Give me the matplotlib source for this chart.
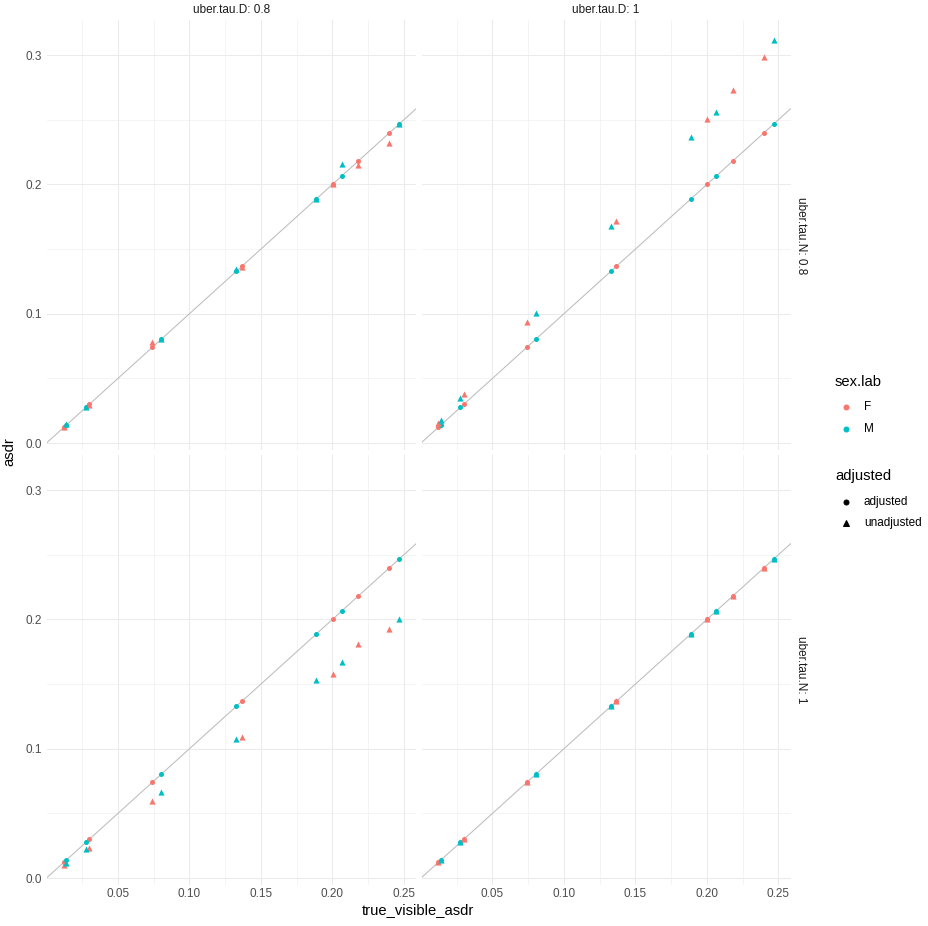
import matplotlib
matplotlib.use("Agg")
import matplotlib.pyplot as plt
from matplotlib.lines import Line2D
from matplotlib.ticker import MultipleLocator, FuncFormatter

plt.rcParams['font.family'] = ['Liberation Sans', 'DejaVu Sans']

# ---- data ----
sexes = ["F", "M"]
sex_colors = {"F": "#F8766D", "M": "#00BFC4"}
tau_D_levels = ["0.8", "1"]
tau_N_levels = ["0.8", "1"]

true_F = [0.0121, 0.0300, 0.0741, 0.1366, 0.2001, 0.2180, 0.2398]
true_M = [0.0137, 0.0276, 0.0802, 0.1328, 0.1886, 0.2065, 0.2467]

# adjusted estimates (equal to truth in every panel)
adj_F = true_F
adj_M = true_M

# unadjusted estimates per panel (tau.N, tau.D)
unadj_N08_D08_F = [0.0125, 0.0295, 0.0784, 0.1360, 0.2000, 0.2150, 0.2322]
unadj_N08_D08_M = [0.0145, 0.0276, 0.0802, 0.1346, 0.1890, 0.2158, 0.2465]
unadj_N08_D1_F = [0.0157, 0.0379, 0.0933, 0.1714, 0.2506, 0.2730, 0.2983]
unadj_N08_D1_M = [0.0178, 0.0348, 0.1008, 0.1676, 0.2369, 0.2560, 0.3117]
unadj_N1_D08_F = [0.0098, 0.0234, 0.0598, 0.1093, 0.1578, 0.1806, 0.1928]
unadj_N1_D08_M = [0.0116, 0.0224, 0.0662, 0.1073, 0.1530, 0.1670, 0.2003]
unadj_N1_D1_F = [0.0121, 0.0300, 0.0741, 0.1366, 0.2001, 0.2180, 0.2398]
unadj_N1_D1_M = [0.0137, 0.0276, 0.0802, 0.1328, 0.1886, 0.2065, 0.2467]

unadj = {
    ("0.8", "0.8"): {"F": unadj_N08_D08_F, "M": unadj_N08_D08_M},
    ("0.8", "1"): {"F": unadj_N08_D1_F, "M": unadj_N08_D1_M},
    ("1", "0.8"): {"F": unadj_N1_D08_F, "M": unadj_N1_D08_M},
    ("1", "1"): {"F": unadj_N1_D1_F, "M": unadj_N1_D1_M},
}
truth = {"F": true_F, "M": true_M}
adj = {"F": adj_F, "M": adj_M}

# ---- scales (ggplot-like 5% expansion) ----
all_x = true_F + true_M
all_y = []
for d in unadj.values():
    all_y += d["F"] + d["M"]
all_y += adj_F + adj_M
xr = max(all_x) - min(all_x)
yr = max(all_y) - min(all_y)
xlim = (min(all_x) - 0.05 * xr, max(all_x) + 0.05 * xr)
ylim = (min(all_y) - 0.05 * yr, max(all_y) + 0.05 * yr)

W, H = 928, 926
fig = plt.figure(figsize=(W / 72, H / 72), dpi=72)
fig.patch.set_facecolor("white")

left_px = 47.0
panel_w = 369.0
gap = 5.5
top_px = 20.4
panel_h = 429.5

grid_col = "#EBEBEB"
tick_col = "#4D4D4D"
small = 11.7
big = 14.7

def px_axes(x0, y0, w, h):
    return fig.add_axes([x0 / W, 1 - (y0 + h) / H, w / W, h / H])

for r, tn in enumerate(tau_N_levels):
    for c, td in enumerate(tau_D_levels):
        x0 = left_px + c * (panel_w + gap)
        y0 = top_px + r * (panel_h + gap)
        ax = px_axes(x0, y0, panel_w, panel_h)
        ax.set_xlim(*xlim)
        ax.set_ylim(*ylim)
        for s in ax.spines.values():
            s.set_visible(False)
        ax.xaxis.set_major_locator(MultipleLocator(0.05))
        ax.xaxis.set_minor_locator(MultipleLocator(0.025))
        ax.yaxis.set_major_locator(MultipleLocator(0.1))
        ax.yaxis.set_minor_locator(MultipleLocator(0.05))
        ax.grid(True, which="major", color=grid_col, linewidth=1.07)
        ax.grid(True, which="minor", color=grid_col, linewidth=0.55)
        ax.set_axisbelow(True)
        ax.tick_params(which="both", length=0, labelsize=small,
                       labelcolor=tick_col)
        ax.tick_params(axis="y", pad=5.5)
        ax.tick_params(axis="x", pad=3)
        ax.xaxis.set_major_formatter(FuncFormatter(lambda v, p: f"{v:.2f}"))
        ax.yaxis.set_major_formatter(FuncFormatter(lambda v, p: f"{v:.1f}"))
        if r == 0:
            ax.tick_params(labelbottom=False)
        if c == 1:
            ax.tick_params(labelleft=False)
        ax.axline((0, 0), slope=1, color="#BEBEBE", linewidth=1.07, zorder=2)
        key = (tn, td)
        for sx in sexes:
            ax.scatter(truth[sx], adj[sx], s=25, marker="o", color=sex_colors[sx],
                       linewidths=0, zorder=3)
        for sx in sexes:
            ax.scatter(truth[sx], unadj[key][sx], s=38, marker="^", color=sex_colors[sx],
                       linewidths=0, zorder=3)
        if r == 0:
            fig.text((x0 + panel_w / 2) / W, 1 - 10 / H, f"uber.tau.D: {td}",
                     ha="center", va="center", fontsize=small, color="#1A1A1A")
        if c == 1:
            fig.text(801 / W, 1 - (y0 + panel_h / 2) / H, f"uber.tau.N: {tn}",
                     ha="center", va="center", rotation=270, fontsize=small,
                     color="#1A1A1A")

# axis titles
fig.text(418 / W, 1 - 910 / H, "true_visible_asdr", ha="center", va="center", fontsize=big)
fig.text(9 / W, 1 - 452 / H, "asdr", ha="center", va="center", rotation=90, fontsize=big)

# legends
def fpt(x, y):
    return x / W, 1 - y / H

fig.text(*fpt(835, 382), "sex.lab", ha="left", va="center", fontsize=big)
for i, sx in enumerate(sexes):
    yy = 406.5 + i * 22.5
    fig.add_artist(Line2D([846 / W], [1 - yy / H], marker="o", markersize=5,
                          color=sex_colors[sx], linestyle="none",
                          transform=fig.transFigure))
    fig.text(*fpt(864, yy), sx, ha="left", va="center", fontsize=small)

fig.text(*fpt(835, 476), "adjusted", ha="left", va="center", fontsize=big)
for i, (lab, mk, ms) in enumerate([("adjusted", "o", 5), ("unadjusted", "^", 6.2)]):
    yy = 501.5 + i * 21.5
    fig.add_artist(Line2D([846 / W], [1 - yy / H], marker=mk, markersize=ms,
                          color="black", linestyle="none",
                          transform=fig.transFigure))
    fig.text(*fpt(864, yy), lab, ha="left", va="center", fontsize=small)

fig.savefig("out.png", dpi=72, facecolor="white")
